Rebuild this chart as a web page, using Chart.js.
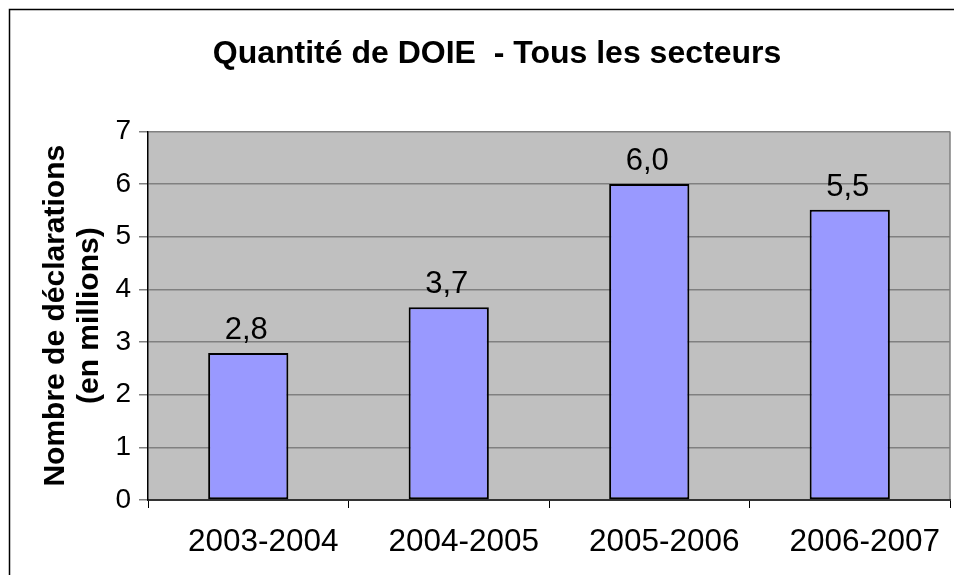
<!DOCTYPE html>
<html>
<head>
<meta charset="utf-8">
<script src="https://cdn.jsdelivr.net/npm/chart.js@4"></script>
<style>
  body { margin: 0; background: #fff; }
</style>
</head>
<body>
<canvas id="doie-chart" width="954" height="575"></canvas>
<script>
// Données du graphique
const periodes = ['2003-2004', '2004-2005', '2005-2006', '2006-2007'];
const declarations = [2.79, 3.66, 6.0, 5.51];
const yTicks = [0, 1, 2, 3, 4, 5, 6, 7];

const FONT = "'Liberation Sans', Arial, sans-serif";

// Cadre extérieur + fond gris de la zone de tracé
const plotBackground = {
    id: 'plotBackground',
    beforeDraw(chart) {
        const ctx = chart.ctx;
        const a = chart.chartArea;
        ctx.save();
        ctx.fillStyle = '#fff';
        ctx.fillRect(0, 0, chart.width, chart.height);
        ctx.strokeStyle = '#000';
        ctx.lineWidth = 1.5;
        ctx.strokeRect(9.5, 9.5, 1200, 1200);
        ctx.fillStyle = '#C0C0C0';
        ctx.fillRect(a.left, a.top, a.right - a.left, a.bottom - a.top);
        ctx.strokeStyle = '#808080';
        ctx.lineWidth = 1.5;
        ctx.beginPath();
        ctx.moveTo(a.right, a.top);
        ctx.lineTo(a.right, a.bottom);
        ctx.stroke();
        ctx.restore();
    }
};

// Étiquettes de valeur au-dessus des barres
const valueLabels = {
    id: 'valueLabels',
    afterDatasetsDraw(chart) {
        const ctx = chart.ctx;
        const meta = chart.getDatasetMeta(0);
        ctx.save();
        ctx.font = '31px ' + FONT;
        ctx.fillStyle = '#000';
        ctx.textAlign = 'center';
        ctx.textBaseline = 'alphabetic';
        meta.data.forEach(function (bar, i) {
            const v = chart.data.datasets[0].data[i];
            const txt = (Math.round(v * 10) / 10).toFixed(1).replace('.', ',');
            ctx.fillText(txt, bar.x - 2, bar.y - 14);
        });
        ctx.restore();
    }
};

const ctx = document.getElementById('doie-chart').getContext('2d');
const myChart = new Chart(ctx, {
    type: 'bar',
    data: {
        labels: periodes,
        datasets: [{
            label: 'Quantité de DOIE',
            data: declarations,
            backgroundColor: '#9999FF',
            borderColor: '#000',
            borderWidth: 2,
            borderSkipped: false,
            categoryPercentage: 1,
            barPercentage: 0.4
        }]
    },
    options: {
        responsive: false,
        animation: false,
        layout: {
            // marge gauche élargie pour décaler le titre comme dans l'original
            padding: { left: 44, right: 4, top: 10, bottom: 0 }
        },
        plugins: {
            legend: { display: false },
            tooltip: { enabled: false },
            title: {
                display: true,
                text: 'Quantité de DOIE  - Tous les secteurs',
                color: '#000',
                font: { family: FONT, size: 32, weight: 'bold', lineHeight: 1.2 },
                padding: { top: 25, bottom: 58 }
            }
        },
        scales: {
            x: {
                grid: {
                    display: true,
                    offset: true,
                    drawOnChartArea: false,
                    drawTicks: true,
                    tickLength: 8,
                    color: '#000',
                    tickColor: '#000'
                },
                border: { display: true, color: '#333', width: 2 },
                ticks: {
                    color: '#000',
                    padding: 15,
                    labelOffset: 15,
                    font: { family: FONT, size: 31.5, lineHeight: 1.2 }
                },
                afterFit(scale) { scale.height = 75; }
            },
            y: {
                min: 0,
                max: 7,
                afterBuildTicks(scale) {
                    scale.ticks = yTicks.map(v => ({ value: v }));
                },
                grid: {
                    color: '#808080',
                    lineWidth: 1.5,
                    tickLength: 9,
                    tickColor: '#808080'
                },
                border: { display: true, color: '#000', width: 1.5 },
                ticks: {
                    color: '#000',
                    padding: 8,
                    font: { family: FONT, size: 28 }
                },
                title: {
                    display: true,
                    text: ['Nombre de déclarations', '(en millions)'],
                    color: '#000',
                    font: { family: FONT, size: 30, weight: 'bold', lineHeight: 1.15 },
                    padding: { top: -6, bottom: 0 }
                },
                afterFit(scale) { scale.width = 104; }
            }
        }
    },
    plugins: [plotBackground, valueLabels]
});
</script>
</body>
</html>
